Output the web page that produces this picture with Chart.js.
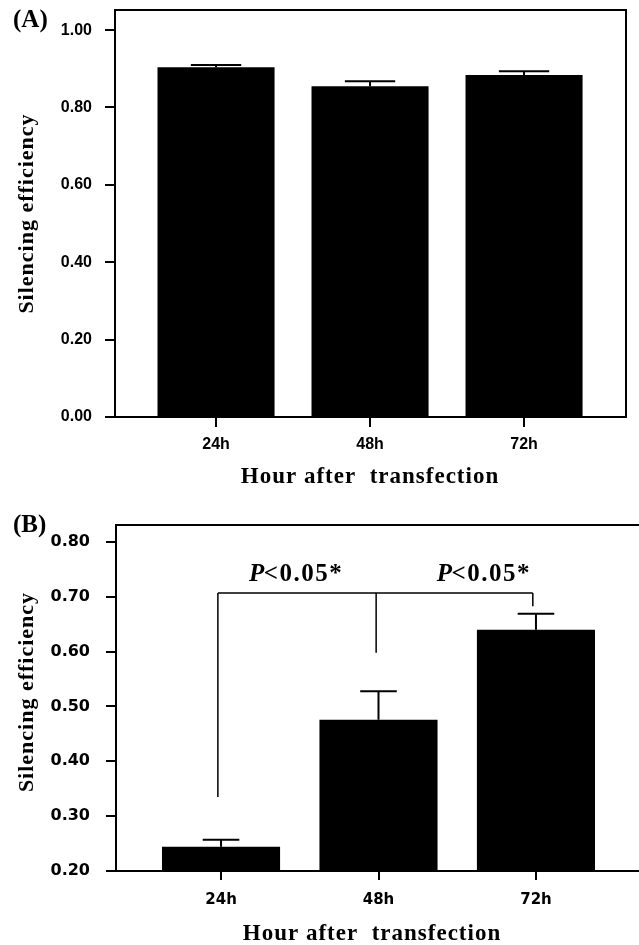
<!DOCTYPE html>
<html>
<head>
<meta charset="utf-8">
<script src="https://cdn.jsdelivr.net/npm/chart.js@4"></script>
<style>
  html, body { margin: 0; padding: 0; background: #fff; overflow: hidden; }
  #panel-a { position: absolute; left: 0; top: 0; width: 639px; height: 490px; }
  /* B es más ancho que la ventana: su borde derecho queda fuera del recorte */
  #panel-b { position: absolute; left: 0; top: 490px; width: 660px; height: 458px; }
</style>
</head>
<body>
<div id="panel-a"><canvas id="chart-a"></canvas></div>
<div id="panel-b"><canvas id="chart-b"></canvas></div>
<script>
const HORAS = ['24h', '48h', '72h'];
const TITULO_Y = 'Silencing efficiency';
const TITULO_X = 'Hour after  transfection';

// Panel A
const EFIC_A = [0.904, 0.855, 0.884];
const DE_A = [0.006, 0.013, 0.010];
const TICKS_A = [0, 0.2, 0.4, 0.6, 0.8, 1.0];

// Panel B
const EFIC_B = [0.244, 0.476, 0.640];
const DE_B = [0.013, 0.052, 0.029];
const TICKS_B = [0.2, 0.3, 0.4, 0.5, 0.6, 0.7, 0.8];

// Llave de significancia en B (x en índice de categoría, y en unidades de datos)
const LLAVE_X = [-0.02, 0.985, 1.98];
const LLAVE_Y = 0.707;
const LLAVE_FIN = [0.335, 0.598, 0.683];
const P_X = [0.483, 1.676];
const P_Y = 0.74;

Chart.defaults.animation = false;
Chart.defaults.plugins.legend.display = false;
Chart.defaults.plugins.tooltip.enabled = false;

// ============================================
// PLUGINS
// ============================================
const barrasError = {
  id: 'barrasError',
  afterDatasetsDraw(chart, args, o) {
    const { ctx } = chart;
    const y = chart.scales.y;
    const meta = chart.getDatasetMeta(0);
    ctx.save();
    ctx.strokeStyle = '#000';
    ctx.lineWidth = 2;
    meta.data.forEach((bar, i) => {
      const v = chart.data.datasets[0].data[i].y;
      const yTop = y.getPixelForValue(v + o.de[i]);
      const half = bar.width * o.cap / 2;
      ctx.beginPath();
      ctx.moveTo(bar.x, bar.y);
      ctx.lineTo(bar.x, yTop);
      ctx.moveTo(bar.x - half, yTop);
      ctx.lineTo(bar.x + half, yTop);
      ctx.stroke();
    });
    ctx.restore();
  },
};

const marco = {
  id: 'marco',
  afterDraw(chart) {
    const { ctx, chartArea: a } = chart;
    ctx.save();
    ctx.strokeStyle = '#000';
    ctx.lineWidth = 2;
    ctx.beginPath();
    ctx.moveTo(a.left, a.top);
    ctx.lineTo(a.right, a.top);
    ctx.lineTo(a.right, a.bottom);
    ctx.stroke();
    ctx.restore();
  },
};

const rotulos = {
  id: 'rotulos',
  afterDraw(chart, args, o) {
    const { ctx, chartArea: a } = chart;
    ctx.save();
    ctx.fillStyle = '#000';
    ctx.textAlign = 'center';
    ctx.textBaseline = 'middle';
    ctx.letterSpacing = '1px';
    ctx.font = 'bold 22px "Liberation Serif"';
    ctx.save();
    ctx.translate(o.yTitX, (a.top + a.bottom) / 2 + o.yTitDy);
    ctx.rotate(-Math.PI / 2);
    ctx.fillText(TITULO_Y, 0, 0);
    ctx.restore();
    ctx.font = 'bold 23px "Liberation Serif"';
    ctx.fillText(TITULO_X, o.xTitX, o.xTitY);
    ctx.letterSpacing = '0px';
    ctx.textAlign = 'left';
    ctx.font = 'bold 25px "Liberation Serif"';
    ctx.fillText(o.panel, 13, o.panelY);
    ctx.restore();
  },
};

const llave = {
  id: 'llave',
  afterDraw(chart) {
    const { ctx } = chart;
    const { x, y } = chart.scales;
    const yl = y.getPixelForValue(LLAVE_Y);
    ctx.save();
    ctx.strokeStyle = '#000';
    ctx.lineWidth = 1.5;
    ctx.beginPath();
    ctx.moveTo(x.getPixelForValue(LLAVE_X[0]), yl);
    ctx.lineTo(x.getPixelForValue(LLAVE_X[2]), yl);
    LLAVE_X.forEach((lx, i) => {
      ctx.moveTo(x.getPixelForValue(lx), yl);
      ctx.lineTo(x.getPixelForValue(lx), y.getPixelForValue(LLAVE_FIN[i]));
    });
    ctx.stroke();

    // "P<0.05*" con la P en cursiva
    ctx.fillStyle = '#000';
    ctx.textBaseline = 'middle';
    ctx.textAlign = 'left';
    ctx.letterSpacing = '1.5px';
    const fP = 'italic bold 25px "Liberation Serif"';
    const fR = 'bold 25px "Liberation Serif"';
    P_X.forEach((px) => {
      ctx.font = fP;
      const wP = ctx.measureText('P').width;
      ctx.font = fR;
      const wR = ctx.measureText('<0.05*').width;
      const x0 = x.getPixelForValue(px) - (wP + wR) / 2;
      const yy = y.getPixelForValue(P_Y);
      ctx.font = fP;
      ctx.fillText('P', x0, yy);
      ctx.font = fR;
      ctx.fillText('<0.05*', x0 + wP - 2, yy);
    });
    ctx.restore();
  },
};

// ============================================
// CONFIG COMÚN
// ============================================
function crearPanel(id, cfg) {
  return new Chart(document.getElementById(id), {
    type: 'bar',
    data: {
      datasets: [{
        data: HORAS.map((h, i) => ({ x: i, y: cfg.valores[i] })),
        backgroundColor: '#000',
        borderWidth: 0,
        categoryPercentage: 1,
        barPercentage: cfg.anchoBarra,
      }],
    },
    options: {
      responsive: true, maintainAspectRatio: false,
      layout: { padding: { top: cfg.padTop, right: cfg.padRight, left: 0, bottom: 0 } },
      scales: {
        x: {
          type: 'linear', min: cfg.xMin, max: cfg.xMax, offset: false,
          afterBuildTicks: (s) => { s.ticks = HORAS.map((h, i) => ({ value: i })); },
          afterFit: (s) => { s.height = cfg.altoX; s.paddingLeft = 0; s.paddingRight = 0; },
          grid: { offset: false, drawOnChartArea: false, drawTicks: true, tickLength: cfg.tickX, color: '#000', lineWidth: 2 },
          border: { color: '#000', width: 2 },
          ticks: { color: '#000', font: cfg.fontX, padding: cfg.padX, maxRotation: 0, callback: (v) => HORAS[v] },
        },
        y: {
          min: cfg.yMin, max: cfg.yMax,
          afterBuildTicks: (s) => { s.ticks = cfg.ticksY.map((v) => ({ value: v })); },
          afterFit: (s) => { s.width = cfg.anchoY; s.paddingTop = 0; s.paddingBottom = 0; },
          grid: { drawOnChartArea: false, drawTicks: true, tickLength: 10, color: '#000', lineWidth: 2 },
          border: { color: '#000', width: 2 },
          ticks: { color: '#000', font: cfg.fontY, padding: cfg.padY, callback: (v) => v.toFixed(2) },
        },
      },
      plugins: {
        barrasError: { de: cfg.de, cap: cfg.cap },
        rotulos: cfg.rotulos,
      },
    },
    plugins: cfg.plugins,
  });
}

crearPanel('chart-a', {
  valores: EFIC_A, de: DE_A, cap: 0.43, anchoBarra: 0.76,
  xMin: -0.656, xMax: 2.662, yMin: 0, yMax: 1.052, ticksY: TICKS_A,
  padTop: 10, padRight: 13, anchoY: 115, altoX: 73,
  tickX: 10, padX: 8, padY: 13,
  fontX: { family: 'Liberation Sans', weight: 'bold', size: 16 },
  fontY: { family: 'Liberation Sans', weight: 'bold', size: 16 },
  rotulos: { panel: '(A)', panelY: 21, yTitX: 27, yTitDy: 0, xTitX: 370, xTitY: 477 },
  plugins: [barrasError, marco, rotulos],
});

crearPanel('chart-b', {
  valores: EFIC_B, de: DE_B, cap: 0.31, anchoBarra: 0.75,
  xMin: -0.667, xMax: 2.667, yMin: 0.2, yMax: 0.831, ticksY: TICKS_B,
  padTop: 35, padRight: 19, anchoY: 116, altoX: 77,
  tickX: 9, padX: 11, padY: 16,
  fontX: { family: 'DejaVu Sans', weight: 'bold', size: 15 },
  fontY: { family: 'DejaVu Sans', weight: 'bold', size: 16 },
  rotulos: { panel: '(B)', panelY: 36, yTitX: 27, yTitDy: -6, xTitX: 372, xTitY: 444 },
  plugins: [barrasError, marco, rotulos, llave],
});
</script>
</body>
</html>
